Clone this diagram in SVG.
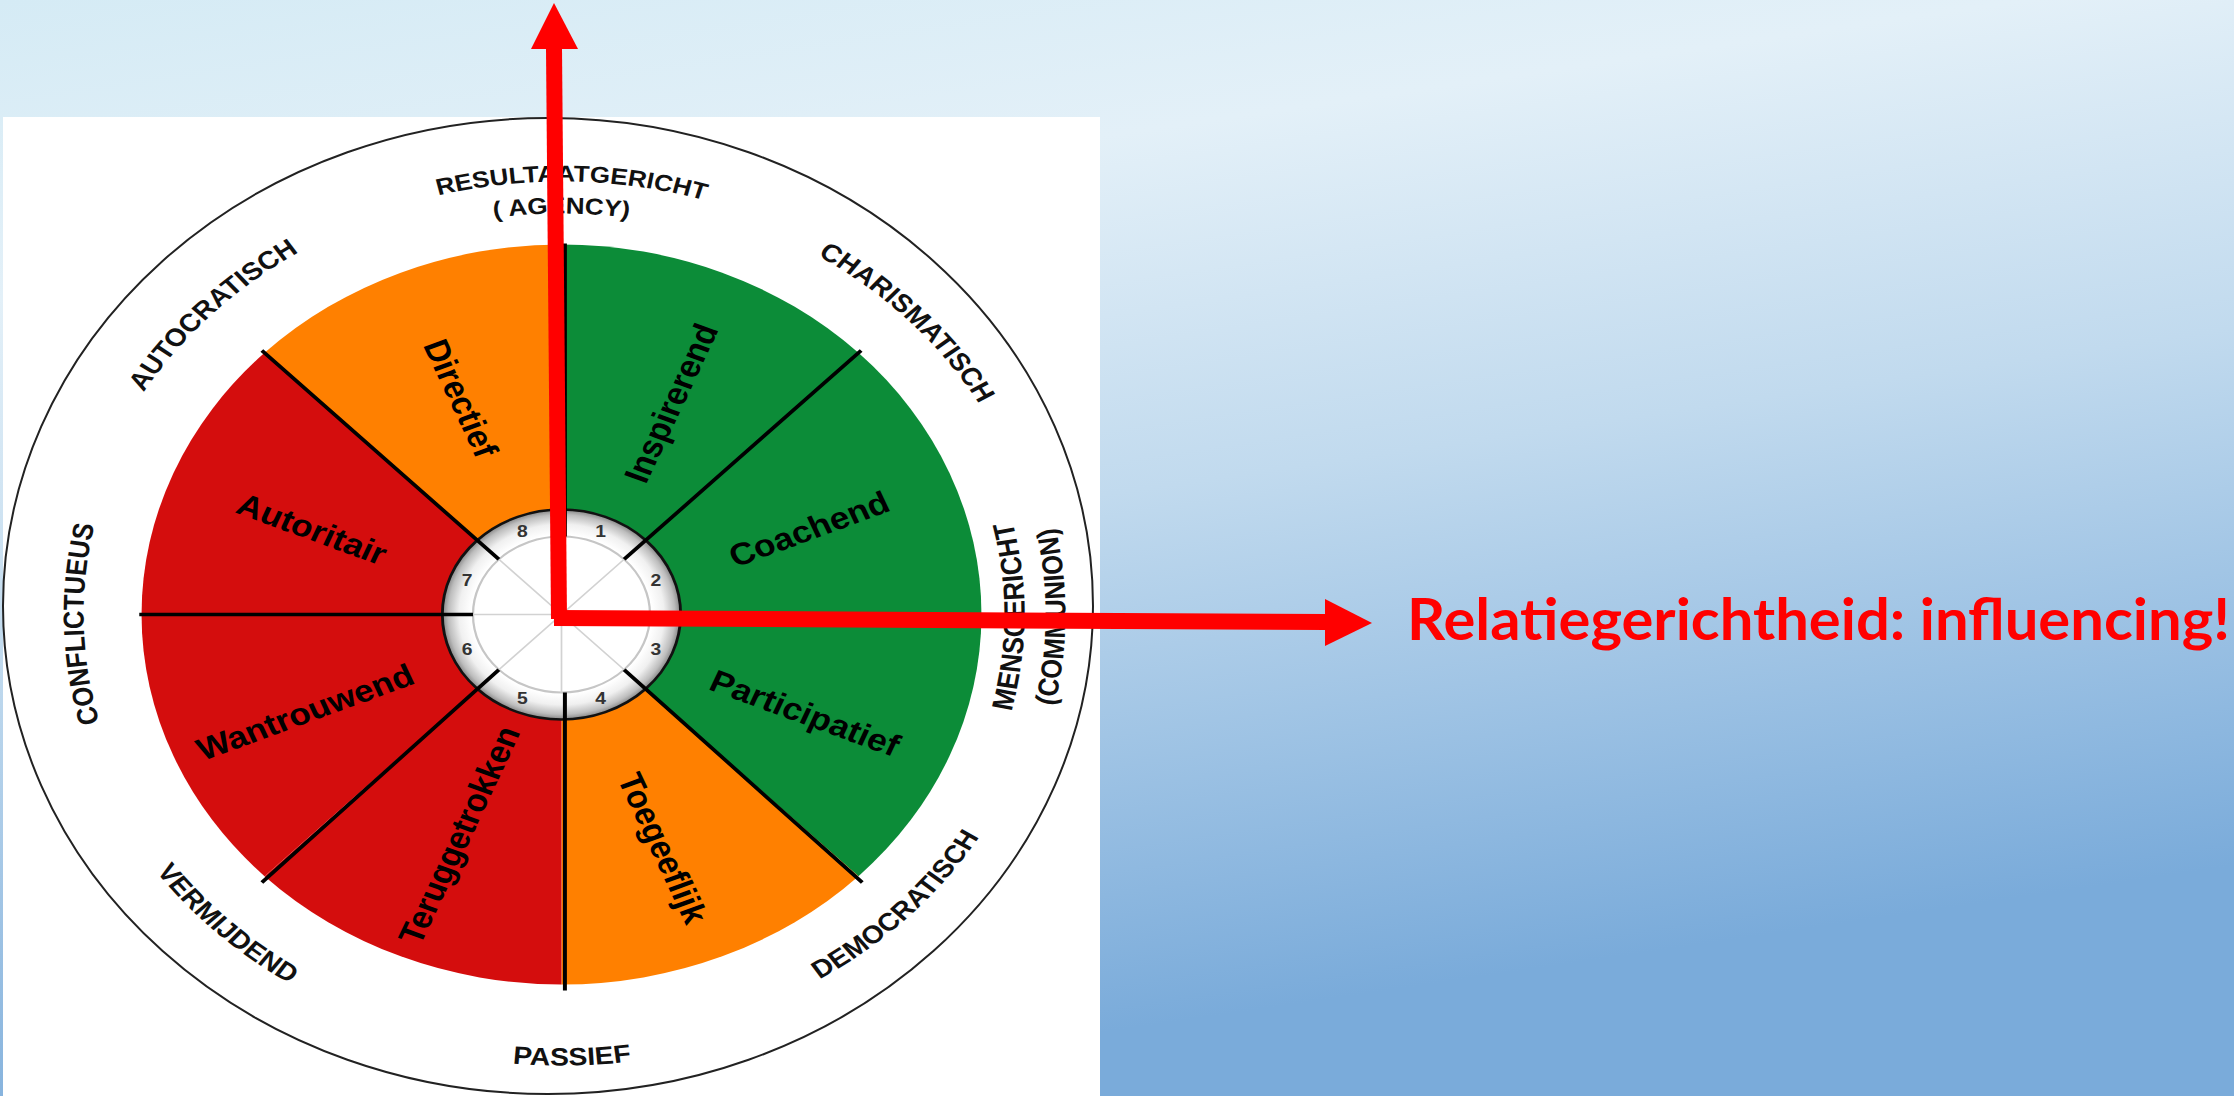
<svg xmlns="http://www.w3.org/2000/svg" width="2234" height="1096" viewBox="0 0 2234 1096">
<style>
.lbl{font-family:"Liberation Sans",Arial,sans-serif;font-weight:bold;font-size:31px;fill:#000;text-anchor:middle}
.ring{font-family:"Liberation Sans",Arial,sans-serif;font-weight:bold;font-size:25px;fill:#111}
.num{font-family:"Liberation Sans",Arial,sans-serif;font-weight:bold;font-size:17px;fill:#333;text-anchor:middle}
.div{stroke:#000;stroke-width:3.5;fill:none}
.spoke{stroke:#d2d2d2;stroke-width:1.5;fill:none}
.red{fill:#FF0000}
</style>
<defs>
<linearGradient id="bg" x1="0" y1="0" x2="0.3" y2="1">
<stop offset="0" stop-color="#D5EBF5"/>
<stop offset="0.25" stop-color="#E3F0F8"/>
<stop offset="0.55" stop-color="#C1DAEE"/>
<stop offset="1" stop-color="#7AABDA"/>
</linearGradient>
<radialGradient id="hubg" cx="0" cy="0" r="105" gradientUnits="userSpaceOnUse">
<stop offset="0" stop-color="#ffffff"/>
<stop offset="0.76" stop-color="#ffffff"/>
<stop offset="0.86" stop-color="#f0f0f0"/>
<stop offset="0.95" stop-color="#bdbdbd"/>
<stop offset="1" stop-color="#858585"/>
</radialGradient>
<path id="pRes" d="M -240.9 -359.8 A 433 433 0 0 1 255.7 -349.4"/>
<path id="pAg" d="M -230.0 -328.5 A 401 401 0 0 1 230.0 -328.5"/>
<path id="pAuto" d="M -424.4 -69.5 A 430 430 0 0 1 -79.8 -422.5"/>
<path id="pChar" d="M 82.3 -415.9 A 424 424 0 0 1 419.0 -64.9"/>
<path id="pConf" d="M -339.3 249.2 A 421 421 0 0 1 -350.3 -233.6"/>
<path id="pPas" d="M -250.9 374.8 A 451 451 0 0 0 266.4 364.0"/>
<path id="pVer" d="M -431.3 87.0 A 440 440 0 0 0 -65.8 435.1"/>
<path id="pDem" d="M 77.6 422.9 A 430 430 0 0 0 424.0 71.7"/>
<path id="pCom" d="M 362.3 256.6 A 444 444 0 0 0 365.0 -252.8"/>
<path id="pMen" d="M 333.0 235.8 A 408 408 0 0 0 335.4 -232.3"/>
</defs>

<rect id="background" x="0" y="0" width="2234" height="1096" fill="url(#bg)"/>
<rect id="panel" x="3" y="117" width="1097" height="979" fill="#ffffff"/>
<ellipse id="outer-ring" cx="548" cy="606" rx="545" ry="488" fill="none" stroke="#222" stroke-width="2"/>

<g id="wheel" transform="translate(561.5,614.5) scale(1.135,1)">
  <g id="sector-1">
    <path d="M0 0 L0 -370 A370 370 0 0 1 261.63 -261.63 Z" fill="#0C8C38"/>
    <text class="lbl" transform="translate(96.5,-211.5) rotate(-67.5)" dy="0.35em">Inspirerend</text>
  </g>
  <g id="sector-2">
    <path d="M0 0 L261.63 -261.63 A370 370 0 0 1 370 0 Z" fill="#0C8C38"/>
    <text class="lbl" transform="translate(218,-85.5) rotate(-22.5)" dy="0.35em">Coachend</text>
  </g>
  <g id="sector-3">
    <path d="M0 0 L370 0 A370 370 0 0 1 261.63 261.63 Z" fill="#0C8C38"/>
    <text class="lbl" transform="translate(214.5,98.5) rotate(22.5)" dy="0.35em">Participatief</text>
  </g>
  <g id="sector-4">
    <path d="M0 0 L261.63 261.63 A370 370 0 0 1 0 370 Z" fill="#FF8000"/>
    <text class="lbl" transform="translate(89.4,233.5) rotate(67.5)" dy="0.35em">Toegeeflijk</text>
  </g>
  <g id="sector-5">
    <path d="M0 0 L0 370 A370 370 0 0 1 -261.63 261.63 Z" fill="#D40D0D"/>
    <text class="lbl" transform="translate(-90.3,220.5) rotate(-67.5)" dy="0.35em">Teruggetrokken</text>
  </g>
  <g id="sector-6">
    <path d="M0 0 L-261.63 261.63 A370 370 0 0 1 -370 0 Z" fill="#D40D0D"/>
    <text class="lbl" transform="translate(-226,97.5) rotate(-22.5)" dy="0.35em">Wantrouwend</text>
  </g>
  <g id="sector-7">
    <path d="M0 0 L-370 0 A370 370 0 0 1 -261.63 -261.63 Z" fill="#D40D0D"/>
    <text class="lbl" transform="translate(-219.8,-85.5) rotate(22.5)" dy="0.35em">Autoritair</text>
  </g>
  <g id="sector-8">
    <path d="M0 0 L-261.63 -261.63 A370 370 0 0 1 0 -370 Z" fill="#FF8000"/>
    <text class="lbl" transform="translate(-88.5,-216.5) rotate(67.5)" dy="0.35em">Directief</text>
  </g>

  <g id="hub">
    <circle cx="0" cy="0" r="105" fill="url(#hubg)" stroke="#111" stroke-width="2.5"/>
    <circle cx="0" cy="0" r="78" fill="#ffffff" stroke="#c6c6c6" stroke-width="2"/>
    <path class="spoke" d="M0 -78 V78 M-78 0 H78 M-55.2 -55.2 L55.2 55.2 M55.2 -55.2 L-55.2 55.2"/>
    <text class="num" x="34.4" y="-83.1" dy="0.35em">1</text>
    <text class="num" x="83.1" y="-34.4" dy="0.35em">2</text>
    <text class="num" x="83.1" y="34.4" dy="0.35em">3</text>
    <text class="num" x="34.4" y="83.1" dy="0.35em">4</text>
    <text class="num" x="-34.4" y="83.1" dy="0.35em">5</text>
    <text class="num" x="-83.1" y="34.4" dy="0.35em">6</text>
    <text class="num" x="-83.1" y="-34.4" dy="0.35em">7</text>
    <text class="num" x="-34.4" y="-83.1" dy="0.35em">8</text>
  </g>

  <g id="dividers">
    <path class="div" d="M3 -78 V-371 M3 78 V376 M-78 0 H-372 M55.2 -55.2 L264 -264 M55.2 55.2 L265 268 M-55.2 55.2 L-264 268 M-55.2 -55.2 L-264 -264"/>
  </g>

  <g id="ring-labels">
    <text class="ring" style="font-size:23px"><textPath href="#pRes" startOffset="50%" text-anchor="middle">RESULTAATGERICHT</textPath></text>
    <text class="ring" style="font-size:23px"><textPath href="#pAg" startOffset="50%" text-anchor="middle">( AGENCY)</textPath></text>
    <text class="ring"><textPath href="#pAuto" startOffset="50%" text-anchor="middle">AUTOCRATISCH</textPath></text>
    <text class="ring"><textPath href="#pChar" startOffset="50%" text-anchor="middle">CHARISMATISCH</textPath></text>
    <text class="ring" style="font-size:25.5px"><textPath href="#pConf" startOffset="50%" text-anchor="middle">CONFLICTUEUS</textPath></text>
    <text class="ring"><textPath href="#pPas" startOffset="50%" text-anchor="middle">PASSIEF</textPath></text>
    <text class="ring"><textPath href="#pVer" startOffset="50%" text-anchor="middle">VERMIJDEND</textPath></text>
    <text class="ring"><textPath href="#pDem" startOffset="50%" text-anchor="middle">DEMOCRATISCH</textPath></text>
    <text class="ring" style="font-size:25.5px"><textPath href="#pCom" startOffset="50%" text-anchor="middle">(COMMUNION)</textPath></text>
    <text class="ring" style="font-size:26px"><textPath href="#pMen" startOffset="50%" text-anchor="middle">MENSGERICHT</textPath></text>
  </g>
</g>

<g id="connectors">
  <polygon class="red" points="546,49 562,49 567,619 551,619"/>
  <polygon class="red" points="554,3 578,49 531,49"/>
  <polygon class="red" points="554,610 1326,614 1326,630 554,626"/>
  <polygon class="red" points="1372,623 1325,599 1325,646"/>
</g>

<g id="axis-label">
  <text x="1407" y="640" fill="#FF0000" style="font-family:Lato,'Open Sans',sans-serif;font-weight:bold;font-size:58px" textLength="823" lengthAdjust="spacingAndGlyphs">Relatiegerichtheid: influencing!</text>
</g>
</svg>
